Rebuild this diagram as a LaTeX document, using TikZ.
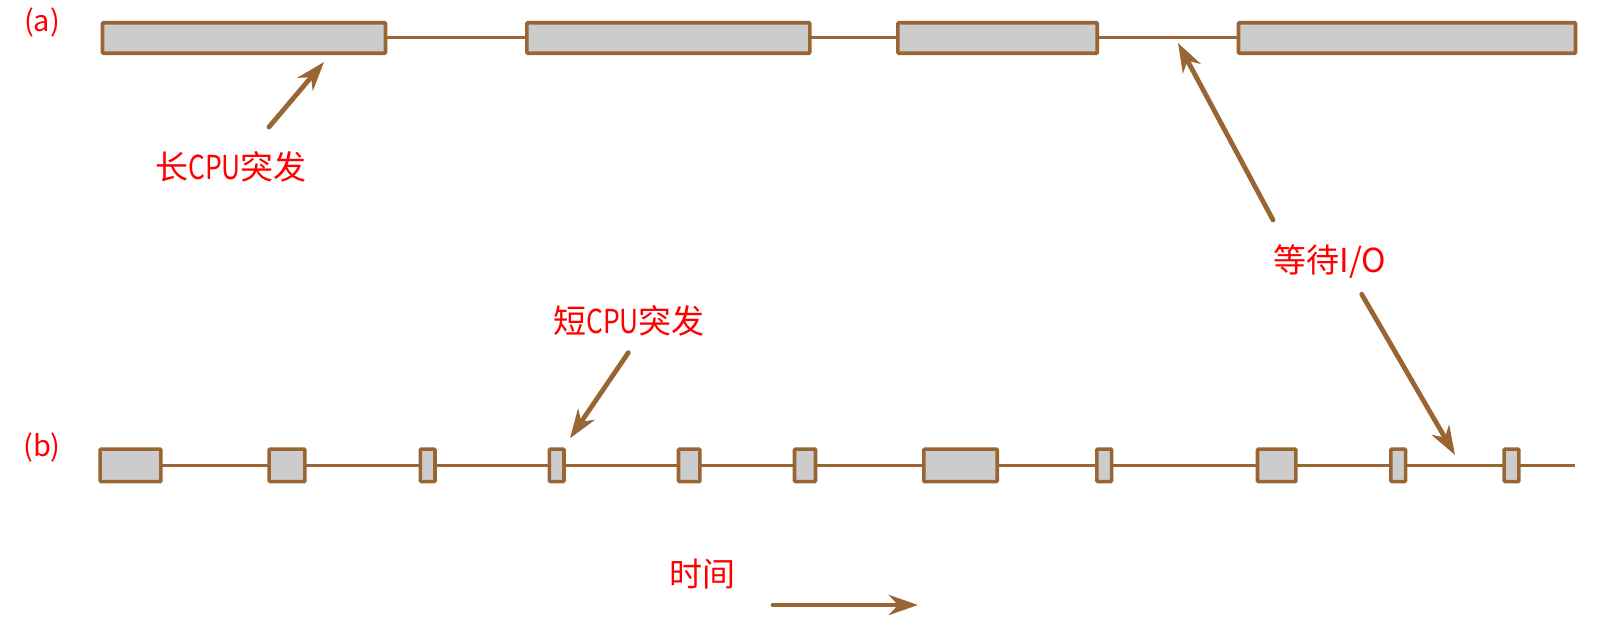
\documentclass[tikz,border=0pt]{standalone}
\usepackage{fontspec}
\setmainfont{Noto Sans CJK SC}
\usetikzlibrary{arrows.meta}
\definecolor{brn}{RGB}{153,102,51}
\definecolor{boxgray}{RGB}{204,204,204}
\definecolor{lblred}{RGB}{255,0,0}
\newcommand{\narrow}[1]{\scalebox{0.8}[1]{#1}}
\begin{document}
\begin{tikzpicture}[x=1pt,y=-1pt,
  burst/.style={draw=brn,fill=boxgray,line width=3.6pt,inner sep=0pt,outer sep=0pt,rounded corners=1pt},
  toprow/.style={burst,minimum height=30.5pt},
  botrow/.style={burst,minimum height=32.5pt},
  link/.style={draw=brn,line width=3pt},
  pointer/.style={draw=brn,line width=4.8pt,line cap=round,-{Stealth[length=29pt,width=20pt,inset=9pt]}},
  lbl/.style={text=lblred,font=\fontsize{33}{38}\selectfont,inner sep=0pt},
  tag/.style={text=lblred,font=\fontsize{29}{34}\selectfont,inner sep=0pt}]
\useasboundingbox (0,0) rectangle (1603,631);
\fill[white] (0,0) rectangle (1603,631);

% (a) row
\node[toprow,minimum width=283pt] (a1) at (244,38) {};
\node[toprow,minimum width=283pt] (a2) at (668.3,38) {};
\node[toprow,minimum width=199.4pt] (a3) at (997.5,38) {};
\node[toprow,minimum width=337pt] (a4) at (1407,38) {};
\draw[link] (a1.east) -- (a2.west);
\draw[link] (a2.east) -- (a3.west);
\draw[link] (a3.east) -- (a4.west);

% (b) row
\node[botrow,minimum width=60.8pt] (b1) at (130.5,465.3) {};
\node[botrow,minimum width=35.8pt] (b2) at (287,465.3) {};
\node[botrow,minimum width=14.6pt] (b3) at (427.7,465.3) {};
\node[botrow,minimum width=14.6pt] (b4) at (556.7,465.3) {};
\node[botrow,minimum width=21.4pt] (b5) at (689.2,465.3) {};
\node[botrow,minimum width=21pt]   (b6) at (805,465.3) {};
\node[botrow,minimum width=73.4pt] (b7) at (960.5,465.3) {};
\node[botrow,minimum width=14.7pt] (b8) at (1104.2,465.3) {};
\node[botrow,minimum width=38.4pt] (b9) at (1276.7,465.3) {};
\node[botrow,minimum width=14.7pt] (b10) at (1398.2,465.3) {};
\node[botrow,minimum width=14.8pt] (b11) at (1511.5,465.3) {};
\coordinate (bend) at (1575,465.3);
\foreach \i/\j in {b1/b2,b2/b3,b3/b4,b4/b5,b5/b6,b6/b7,b7/b8,b8/b9,b9/b10,b10/b11}
  \draw[link] (\i.east) -- (\j.west);
\draw[link] (b11.east) -- (bend);

% labels
\node[tag] (la) at (42,22) {(a)};
\node[tag] (lb) at (42,447) {(b)};
\node[lbl] (long) at (231,167) {长\narrow{CPU}突发};
\node[lbl] (short) at (629,321) {短\narrow{CPU}突发};
\node[lbl] (wait) at (1330,262) {等待I/O};
\node[lbl] (time) at (702,574) {时间};

% pointers
\coordinate (longtail) at (269,127);
\coordinate (longtip) at (324,62);
\coordinate (shorttail) at (628.3,352.7);
\coordinate (shorttip) at (570,438.3);
\coordinate (waitupt) at (1273,220);
\coordinate (waituph) at (1178,43);
\coordinate (waitdnt) at (1361.7,294.3);
\coordinate (waitdnh) at (1455,455);
\coordinate (timetail) at (773,605);
\coordinate (timetip) at (918,605);
\draw[pointer] (longtail) -- (longtip);
\draw[pointer] (shorttail) -- (shorttip);
\draw[pointer] (waitupt) -- (waituph);
\draw[pointer] (waitdnt) -- (waitdnh);
\draw[pointer] (timetail) -- (timetip);
\end{tikzpicture}
\end{document}
